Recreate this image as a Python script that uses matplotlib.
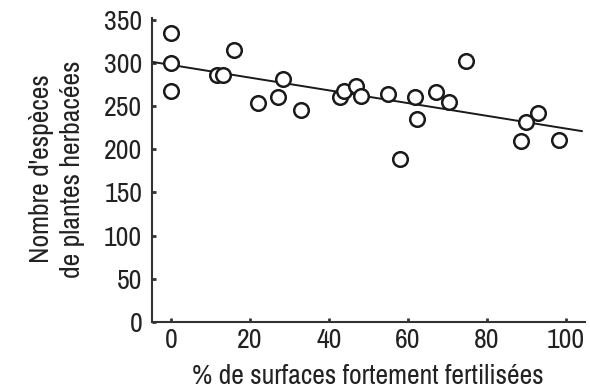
import matplotlib
matplotlib.use("Agg")
import matplotlib.pyplot as plt
from matplotlib import font_manager
import numpy as np

# ============= DATA =============

pct_fertilised = [0, 0, 0, 11.6, 13.1, 16, 22, 27, 28.4, 33,
                  42.8, 43.8, 46.8, 48, 55, 58, 61.8, 62.4, 67, 70.5,
                  74.7, 88.6, 89.8, 93, 98.3]
n_species = [335, 300, 267, 286, 286, 315, 253, 261, 281, 246,
             260, 268, 273, 262, 264, 189, 261, 235, 266, 255,
             302, 209, 231, 242, 211]

# trend line, two end points
trend_x = [-4.5, 104]
trend_y = [301, 221]

x_ticks = [0, 20, 40, 60, 80, 100]
y_ticks = [0, 50, 100, 150, 200, 250, 300, 350]

x_label = "% de surfaces fortement fertilisées"
y_label = "Nombre d'espèces\nde plantes herbacées"

# ============= FONT =============
# the original uses a condensed sans, take one if there is any
names = sorted(set(f.name for f in font_manager.fontManager.ttflist))
narrow = [n for n in names if 'Narrow' in n or 'Condensed' in n]
stretch = 'normal'
if narrow:
    family = narrow[0]
else:
    family = 'DejaVu Sans'
    stretch = 'condensed'
plt.rcParams['font.family'] = [family, 'DejaVu Sans']
plt.rcParams['font.stretch'] = stretch

# ============= PLOT =============

fig = plt.figure(figsize=(5.9, 3.91), dpi=100)
ax = fig.add_axes([0.2576, 0.1765, 0.7339, 0.7775])

ax.plot(trend_x, trend_y, color='#1a1a1a', lw=1.4, zorder=2)
ax.plot(pct_fertilised, n_species, 'o', ms=10.5, mfc='white', mec='#1a1a1a',
        mew=1.8, zorder=3)

ax.set_xlim(-4.8, 104.8)
ax.set_ylim(0, 352)
ax.set_xticks(x_ticks)
ax.set_yticks(y_ticks)

for s in ['top', 'right']:
    ax.spines[s].set_visible(False)
for s in ['left', 'bottom']:
    ax.spines[s].set_linewidth(1.5)
    ax.spines[s].set_color('#333333')

ax.tick_params(direction='in', length=3, width=2, color='#333333',
               labelsize=20, labelcolor='#222222')
ax.tick_params(axis='x', pad=4)
ax.tick_params(axis='y', pad=7)

fig.text(0.6237, 0.038, x_label, fontsize=20, color='#222222',
         ha='center', va='center')
fig.text(0.097, 0.568, y_label, fontsize=20, color='#222222',
         ha='center', va='center', rotation=90, multialignment='center',
         linespacing=1.3)

fig.savefig('out.png', dpi=100)
